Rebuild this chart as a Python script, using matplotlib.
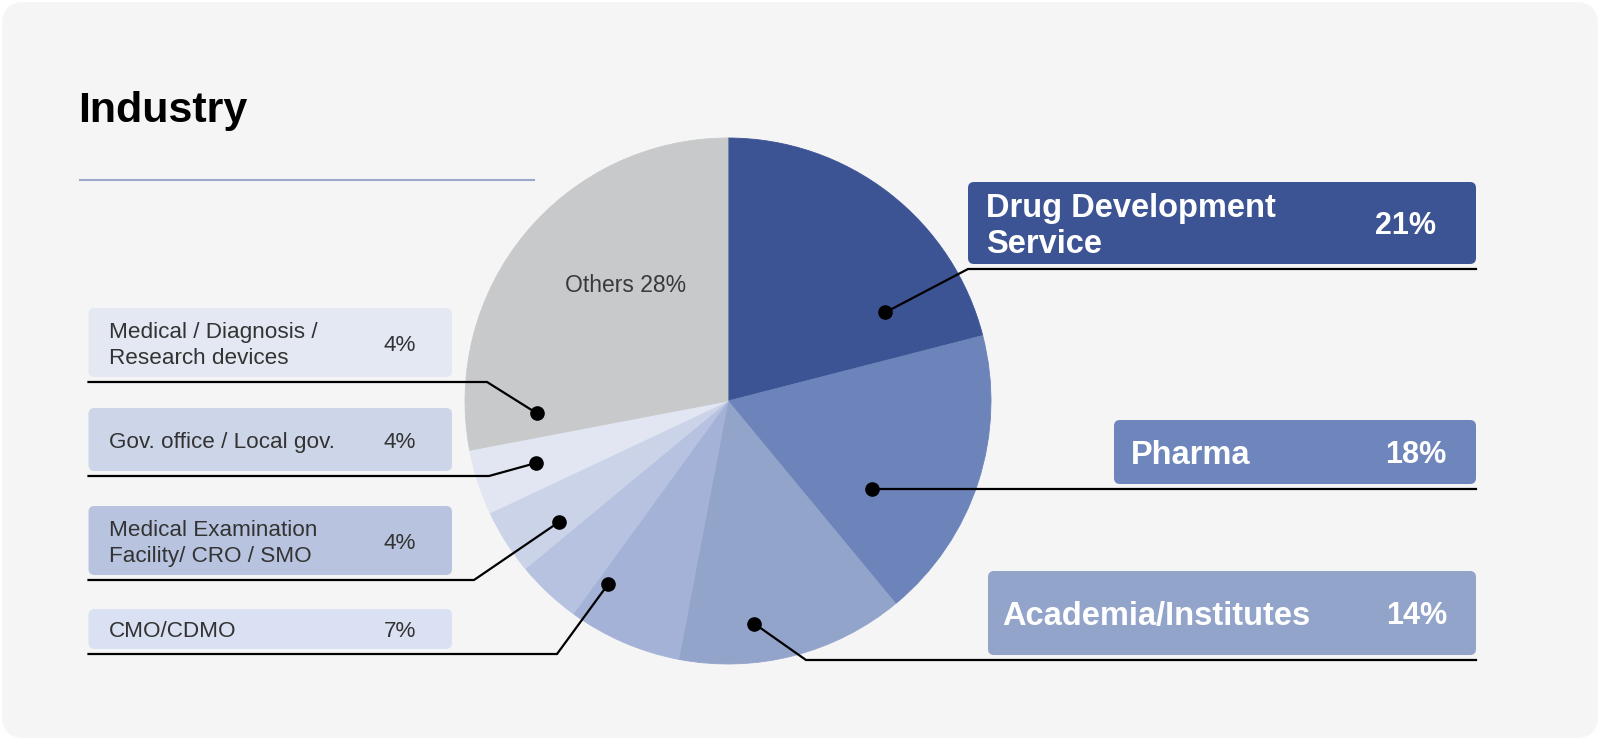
import numpy as np
import matplotlib
matplotlib.use('Agg')
import matplotlib.pyplot as plt
from matplotlib.patches import FancyBboxPatch

plt.rcParams['font.family'] = ['Liberation Sans', 'DejaVu Sans']

# --- data (clockwise from 12 o'clock) ---
labels = ['Drug Development\nService', 'Pharma', 'Academia/Institutes', 'CMO/CDMO',
          'Medical Examination\nFacility/ CRO / SMO', 'Gov. office / Local gov.',
          'Medical / Diagnosis /\nResearch devices', 'Others']
shares = [21, 18, 14, 7, 4, 4, 4, 28]
slice_colors = ['#3d5494', '#6d84ba', '#93a4cb', '#a3b2d6',
                '#b6c2df', '#cad3e8', '#e1e6f2', '#c8c9cb']

# --- layout in pixels (y from top) ---
W, H = 1600, 740
CX, CY, R = 728, 401, 263

# callout anchor inside the pie: (angle deg, fraction of radius)
anchors = [(29.4, .686), (-31.3, .643), (-83.3, .852), (-123.2, .832),
           (-144.4, .789), (-162.1, .766), (-176.3, .728)]

# right callouts: idx, box left, top, bottom, label x, pct x, elbow x, colour
right_boxes = [(0, 968, 182, 264, 986, 1375, 968, '#3d5494'),
               (1, 1114, 420, 484, 1131, 1385, None, '#6e86bb'),
               (2, 988, 571, 655, 1002, 1386, 806, '#93a4cb')]
RIGHT_EDGE = 1476

# left callouts: idx, top, bottom, elbow x, colour
left_boxes = [(6, 308, 377, 487, '#e3e8f3'),
              (5, 408, 471, 489, '#cdd6e9'),
              (4, 506, 575, 474, '#b8c4df'),
              (3, 609, 649, 557, '#dae1f2')]
LEFT_X0, LEFT_X1 = 88.5, 452


def cap_px(size):
    return 0.716 * size * 100 / 72


def draw_lines(ax, x, yc, text, size, color, weight, spacing, ha='left'):
    lines = text.split('\n')
    n = len(lines)
    for i, line in enumerate(lines):
        yb = yc + cap_px(size) / 2 + (i - (n - 1) / 2) * spacing
        ax.text(x, yb, line, fontsize=size, color=color, fontweight=weight,
                ha=ha, va='baseline', zorder=5)


def anchor_xy(i):
    a, f = anchors[i]
    return CX + f * R * np.cos(np.radians(a)), CY - f * R * np.sin(np.radians(a))


fig = plt.figure(figsize=(W / 100, H / 100), dpi=100, facecolor='white')
ax = fig.add_axes([0, 0, 1, 1])

# pie (y axis is inverted afterwards, so counterclock in data = clockwise on screen)
wedges, _ = ax.pie(shares, colors=slice_colors, startangle=-90, counterclock=True,
                   center=(CX, CY), radius=R, frame=True)
for w in wedges:
    w.set_edgecolor(w.get_facecolor())
    w.set_linewidth(0.6)
    w.set_zorder(2)
ax.set_xlim(0, W)
ax.set_ylim(H, 0)
ax.set_aspect('equal')
ax.axis('off')

# card background
ax.add_patch(FancyBboxPatch((2, 2), W - 4, H - 4,
                            boxstyle='round,pad=0,rounding_size=22',
                            fc='#f5f5f5', ec='none', zorder=0))

ax.text(78, 122, 'Industry', fontsize=31, fontweight='bold', color='black',
        va='baseline', zorder=5)
ax.plot([80, 534], [180, 180], color='#9aa8cc', lw=1.5, zorder=3)

ax.text(626, 285, f'{labels[7]} {shares[7]}%', fontsize=16.5, color='#3a3a3a',
        ha='center', va='center', zorder=5)

# right callouts
for i, x0, top, bot, lx, px, ex, col in right_boxes:
    ax.add_patch(FancyBboxPatch((x0, top), RIGHT_EDGE - x0, bot - top,
                                boxstyle='round,pad=0,rounding_size=6',
                                fc=col, ec='none', zorder=3))
    yc = (top + bot) / 2
    draw_lines(ax, lx, yc, labels[i], 23.5, 'white', 'bold', 36)
    draw_lines(ax, px, yc, f'{shares[i]}%', 22, 'white', 'bold', 36)
    dx, dy = anchor_xy(i)
    yu = bot + 5
    if ex is None:
        xs, ys = [RIGHT_EDGE, dx], [yu, yu]
    else:
        xs, ys = [RIGHT_EDGE, ex, dx], [yu, yu, dy]
    ax.plot(xs, ys, color='black', lw=1.6, zorder=4, solid_joinstyle='miter')
    ax.plot(dx, ys[-1], 'o', color='black', ms=9.5, zorder=4)

# left callouts
for i, top, bot, ex, col in left_boxes:
    ax.add_patch(FancyBboxPatch((LEFT_X0, top), LEFT_X1 - LEFT_X0, bot - top,
                                boxstyle='round,pad=0,rounding_size=6',
                                fc=col, ec='none', zorder=3))
    yc = (top + bot) / 2
    draw_lines(ax, 109, yc, labels[i], 16.2, '#333333', 'normal', 26)
    draw_lines(ax, 384, yc, f'{shares[i]}%', 16.2, '#333333', 'normal', 26)
    dx, dy = anchor_xy(i)
    yu = bot + 5
    ax.plot([LEFT_X0, ex, dx], [yu, yu, dy], color='black', lw=1.6, zorder=4,
            solid_joinstyle='miter')
    ax.plot(dx, dy, 'o', color='black', ms=9.5, zorder=4)

fig.savefig('out.png', dpi=100, facecolor='white')
